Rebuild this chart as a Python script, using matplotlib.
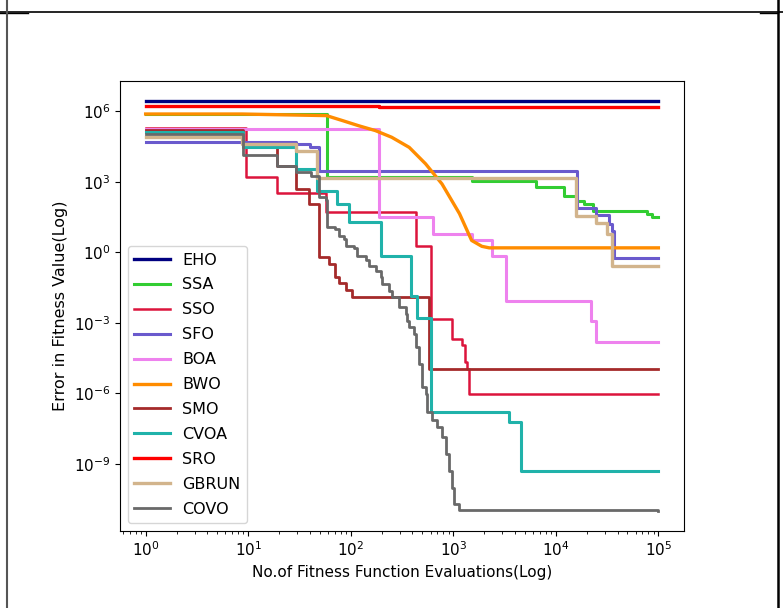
import numpy as np
import matplotlib.pyplot as plt
from matplotlib.ticker import NullLocator
from matplotlib.lines import Line2D

# ===== convergence data (evaluations, best error) =====
eho_x = [1, 1e5]
eho_y = [2.6e6, 2.6e6]

ssa_x = [1, 59, 1510, 6460, 12000, 16200, 19000, 22900, 77600, 87000, 1e5]
ssa_y = [7.6e5, 1550, 1100, 575, 257, 158, 117, 59, 43, 31, 31]

sso_x = [1, 9.5, 19, 57, 436, 603, 977, 1230, 1290, 1360, 1410, 1e5]
sso_y = [2.0e5, 1550, 324, 54, 1.8, 1.5e-3, 2.1e-4, 1.1e-4, 2.1e-5, 1.1e-5, 9.5e-7, 9.5e-7]

sfo_x = [1, 29.5, 40, 49, 16200, 24500, 33100, 35500, 37200, 1e5]
sfo_y = [4.8e4, 4.0e4, 2.9e4, 2950, 78, 40, 16.6, 8.3, 0.575, 0.575]

boa_x = [1, 190, 630, 1510, 2400, 3300, 21900, 24500, 1e5]
boa_y = [1.75e5, 31, 6.0, 3.2, 0.72, 8.9e-3, 1.26e-3, 1.5e-4, 1.5e-4]

bwo_x = [1, 8.7, 58, 83, 120, 174, 251, 372, 537, 776, 1150, 1510, 1900, 2240, 1e5]
bwo_y = [7.6e5, 7.6e5, 6.5e5, 4.0e5, 2.4e5, 1.5e5, 7.8e4, 2.9e4, 5.8e3, 810, 44, 3.2,
         1.8, 1.55, 1.55]

smo_x = [1, 9, 19, 29, 39, 49, 62, 71, 77, 89, 103, 580, 1e5]
smo_y = [1.6e5, 2.9e4, 4800, 490, 115, 0.62, 0.32, 0.087, 0.048, 0.024, 0.0123,
         1.1e-5, 1.1e-5]

cvoa_x = [1, 9, 29, 47, 74, 96, 196, 385, 444, 603, 3480, 4560, 1e5]
cvoa_y = [1.35e5, 2.9e4, 3470, 417, 115, 18.6, 0.72, 0.0145, 1.6e-3, 1.6e-7, 6.0e-8,
          5.2e-10, 5.2e-10]

sro_x = [1, 190, 1e5]
sro_y = [1.6e6, 1.45e6, 1.45e6]

gbrun_x = [1, 8.7, 29.5, 47, 15800, 24500, 31600, 35500, 1e5]
gbrun_y = [7.8e4, 4.0e4, 2.1e4, 1450, 36, 17, 6.0, 0.27, 0.27]

covo_x = [1, 9, 19, 29, 41, 49, 57, 59, 71, 77, 86, 89, 108, 116, 140, 151, 175, 196,
          203, 237, 255, 296, 344, 357, 371, 415, 431, 464, 500, 540, 559, 625, 700,
          783, 845, 910, 980, 1020, 1140, 1e5]
covo_y = [1.07e5, 1.4e4, 4800, 2700, 1800, 220, 160, 11.5, 9.8, 5.1, 3.7, 1.9, 1.6,
          0.72, 0.45, 0.27, 0.166, 0.087, 0.046, 0.023, 0.0123, 4.6e-3, 2.4e-3,
          1.26e-3, 6.5e-4, 3.4e-4, 9.1e-5, 1.8e-5, 1.8e-6, 9.5e-7, 1.6e-7, 7.1e-8,
          3.6e-8, 1.4e-8, 2.7e-9, 5.2e-10, 1.0e-10, 2.0e-11, 1.1e-11, 1.05e-11]

series = [
    ("EHO", eho_x, eho_y, "navy", 2.4, "steps-post"),
    ("SSA", ssa_x, ssa_y, "limegreen", 2.2, "steps-post"),
    ("SSO", sso_x, sso_y, "crimson", 1.8, "steps-post"),
    ("SFO", sfo_x, sfo_y, "slateblue", 2.2, "steps-post"),
    ("BOA", boa_x, boa_y, "violet", 2.2, "steps-post"),
    ("BWO", bwo_x, bwo_y, "darkorange", 2.4, "default"),
    ("SMO", smo_x, smo_y, "brown", 2.0, "steps-post"),
    ("CVOA", cvoa_x, cvoa_y, "lightseagreen", 2.2, "steps-post"),
    ("SRO", sro_x, sro_y, "red", 2.4, "steps-post"),
    ("GBRUN", gbrun_x, gbrun_y, "tan", 2.4, "steps-post"),
    ("COVO", covo_x, covo_y, "dimgray", 2.0, "steps-post"),
]

fig = plt.figure(figsize=(7.83, 6.08), dpi=100)
ax = fig.add_axes([120 / 783, 77 / 608, 564 / 783, 450 / 608])

for name, xs, ys, color, lw, ds in series:
    ax.plot(xs, ys, color=color, lw=lw, drawstyle=ds, label=name)

ax.set_xscale("log")
ax.set_yscale("log")
ax.set_yticks([1e-9, 1e-6, 1e-3, 1e0, 1e3, 1e6])
ax.yaxis.set_minor_locator(NullLocator())
ax.tick_params(labelsize=11)

ax.set_xlabel("No.of Fitness Function Evaluations(Log)", fontsize=11)
ax.set_ylabel("Error in Fitness Value(Log)", fontsize=11.5)

ax.legend(loc="lower left", fontsize=11.5, handlelength=2.2, labelspacing=0.62)

# cell border lines around the figure
top = 1 - 12 / 608
fig.add_artist(Line2D([0, 1], [top, top], color="black", lw=1.2,
                      transform=fig.transFigure))
fig.add_artist(Line2D([0, 28 / 783], [top - 1 / 608] * 2, color="black", lw=1.0,
                      transform=fig.transFigure))
fig.add_artist(Line2D([760 / 783, 778 / 783], [top - 1 / 608] * 2, color="black",
                      lw=1.0, transform=fig.transFigure))
fig.add_artist(Line2D([7 / 783] * 2, [0, 1], color="#555555", lw=1.5,
                      transform=fig.transFigure))
fig.add_artist(Line2D([778 / 783] * 2, [0, 1], color="black", lw=1.8,
                      transform=fig.transFigure))

fig.savefig("out.png", dpi=100)
plt.close(fig)
